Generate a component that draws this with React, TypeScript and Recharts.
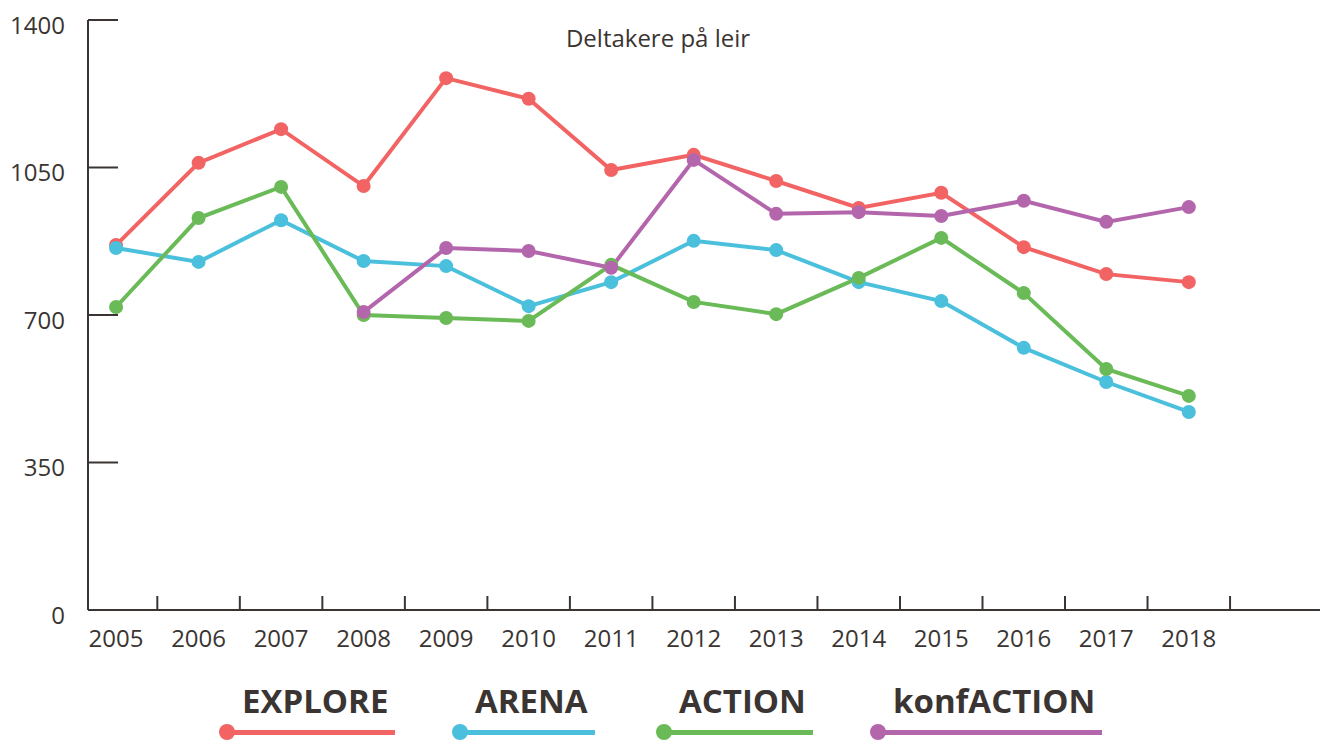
import { LineChart, Line, XAxis, YAxis } from "recharts";

const years = ["2005", "2006", "2007", "2008", "2009", "2010", "2011", "2012", "2013", "2014", "2015", "2016", "2017", "2018"];
const explore = [866, 1061, 1141, 1006, 1262, 1213, 1044, 1080, 1018, 954, 990, 861, 797, 778];
const arena = [859, 826, 925, 828, 816, 721, 778, 876, 854, 778, 733, 622, 541, 470];
const action = [719, 930, 1004, 700, 693, 686, 819, 731, 702, 788, 883, 752, 572, 508];
const konfAction = [null, null, null, 707, 859, 852, 812, 1068, 940, 944, 935, 971, 921, 956];
const yTicks = [0, 350, 700, 1050, 1400];

const series = [
  { key: "explore", name: "EXPLORE", color: "#f26463", left: 219 },
  { key: "arena", name: "ARENA", color: "#4bc0dc", left: 452 },
  { key: "action", name: "ACTION", color: "#6abb58", left: 656 },
  { key: "konfAction", name: "konfACTION", color: "#b466ad", left: 870 },
];

const data = years.map((year, i) => ({
  i,
  year,
  explore: explore[i],
  arena: arena[i],
  action: action[i],
  konfAction: konfAction[i],
}));

const axisColor = "#3a3532";
const labelTicks = years.map((_, i) => i);
const markTicks = years.map((_, i) => i + 0.5);
const domain = [-0.34, 14.59];

export default function App() {
  return (
    <div style={{ position: "absolute", left: 0, top: 0, width: 1320, height: 740, fontFamily: "'Open Sans', sans-serif", background: "#fff" }}>
      <LineChart width={1320} height={740} data={data} margin={{ top: 20, right: 0, bottom: 0, left: 0 }}>
        <XAxis
          xAxisId="labels"
          dataKey="i"
          type="number"
          domain={domain}
          ticks={labelTicks}
          tickFormatter={(v) => years[v]}
          tickLine={false}
          axisLine={{ stroke: axisColor, strokeWidth: 2 }}
          tickMargin={14}
          height={130}
          tick={{ fill: axisColor, fontSize: 24 }}
        />
        <XAxis
          xAxisId="marks"
          dataKey="i"
          type="number"
          domain={domain}
          ticks={markTicks}
          tickFormatter={() => ""}
          mirror
          axisLine={false}
          tickSize={14}
          tickLine={{ stroke: axisColor, strokeWidth: 2 }}
        />
        <YAxis
          type="number"
          domain={[0, 1400]}
          ticks={yTicks}
          width={88}
          tickSize={-30}
          tickMargin={53}
          axisLine={{ stroke: axisColor, strokeWidth: 2 }}
          tickLine={{ stroke: axisColor, strokeWidth: 2 }}
          tick={{ fill: axisColor, fontSize: 24, dy: 5 }}
        />
        {series.map((s) => (
          <Line
            key={s.key}
            xAxisId="labels"
            dataKey={s.key}
            type="linear"
            stroke={s.color}
            strokeWidth={4}
            dot={{ r: 7, fill: s.color, stroke: "none" }}
            activeDot={false}
            isAnimationActive={false}
          />
        ))}
      </LineChart>
      <div style={{ position: "absolute", left: 0, top: 26, width: 1316, textAlign: "center", fontSize: 24, lineHeight: "24px", color: axisColor }}>
        Deltakere på leir
      </div>
      {series.map((s) => (
        <div key={s.key} style={{ position: "absolute", left: s.left, top: 684 }}>
          <div style={{ fontSize: 33, lineHeight: "33px", fontWeight: 700, color: axisColor, paddingLeft: 23, paddingRight: 7, whiteSpace: "nowrap" }}>
            {s.name}
          </div>
          <div style={{ position: "relative", height: 16, marginTop: 7 }}>
            <div style={{ position: "absolute", left: 8, right: 0, top: 6, height: 5, background: s.color }} />
            <div style={{ position: "absolute", left: 0, top: 0, width: 16, height: 16, borderRadius: 8, background: s.color }} />
          </div>
        </div>
      ))}
    </div>
  );
}
